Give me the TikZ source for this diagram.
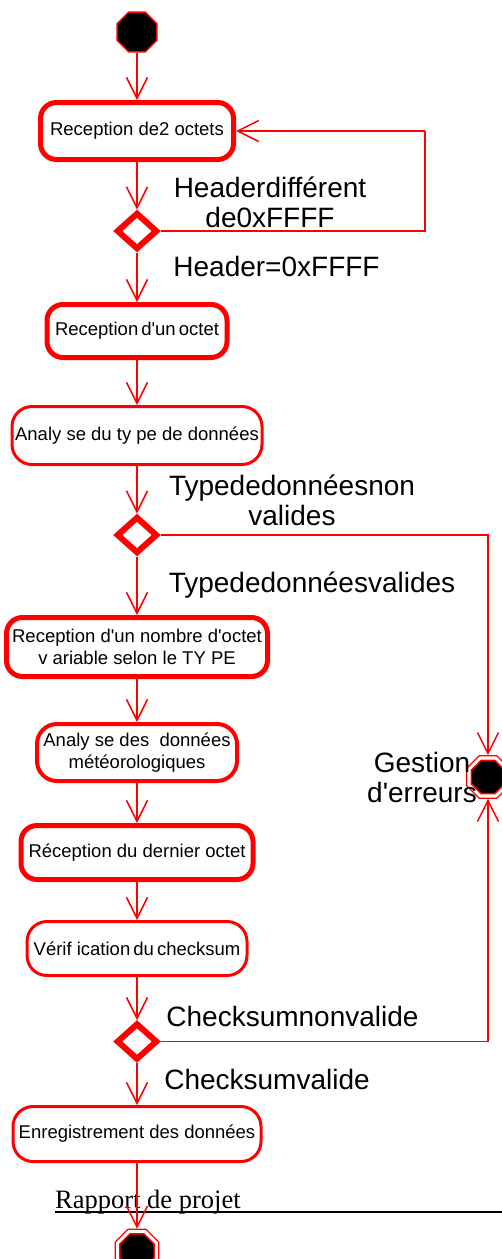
\documentclass[tikz,border=0pt]{standalone}
\usepackage{fontspec}
\setmainfont{Liberation Sans}[Ligatures=TeXOff]
\newfontfamily\seriffont{Liberation Serif}[Ligatures=TeXOff]
\usetikzlibrary{shapes.geometric,arrows.meta}
\begin{document}
\begin{tikzpicture}[x=1pt,y=-1pt,
  act/.style={draw=red, fill=white, rounded corners=16pt, align=center, inner sep=0pt,
    font=\fontsize{18.5}{22}\selectfont},
  actthick/.style={act, line width=5pt},
  actmid/.style={act, line width=4pt},
  actthin/.style={act, line width=3pt},
  decision/.style={diamond, draw=red, fill=white, line width=6pt, inner sep=0pt,
    minimum width=41pt, minimum height=37pt},
  startstate/.style={regular polygon, regular polygon sides=8, draw=red, fill=black,
    line width=1.5pt, inner sep=0pt, minimum size=43pt},
  endring/.style={regular polygon, regular polygon sides=8, draw=red,
    line width=1.2pt, inner sep=0pt},
  endcore/.style={regular polygon, regular polygon sides=8, draw=red, fill=black,
    line width=1.5pt, inner sep=0pt},
  conn/.style={draw=red, line width=1.5pt, -{Straight Barb[length=21pt,width=21pt]}},
  wire/.style={draw=red, line width=1.5pt},
  lbl/.style={font=\fontsize{28}{30}\selectfont, align=center, inner sep=0pt},
]
\useasboundingbox (0,0) rectangle (502,1259);
\clip (0,0) rectangle (502,1259);

% states
\node[startstate] (start) at (137,32) {};
\node[actthick, minimum width=193pt, minimum height=57pt] (b1) at (137,131) {Reception de2 octets};
\node[decision] (d1) at (137,231) {};
\node[actthick, minimum width=180pt, minimum height=53pt] (b2) at (137,331) {Reception\,d'un\,octet};
\node[actthin, minimum width=250pt, minimum height=58pt, rounded corners=20pt] (b3) at (137,435.5) {Analy se du ty pe de données};
\node[decision] (d2) at (137,535) {};
\node[actthick, minimum width=261pt, minimum height=59pt] (b4) at (137,647) {Reception d'un nombre d'octet\\v ariable selon le TY PE};
\node[actmid, minimum width=200pt, minimum height=57pt, rounded corners=20pt] (b5) at (137,752.5) {Analy se des \ données\\météorologiques};
\node[actthick, minimum width=232pt, minimum height=54pt] (b6) at (137,852.5) {Réception du dernier octet};
\node[actthin, minimum width=220pt, minimum height=54pt, rounded corners=20pt] (b7) at (137,948.5) {Vérif ication\,du\,checksum};
\node[decision] (d3) at (137,1041.5) {};
\node[actthin, minimum width=248pt, minimum height=55pt, rounded corners=20pt] (b8) at (137,1134) {Enregistrement des données};

% error end state
\node[endring, minimum size=46pt] (gest) at (488,777) {};
\node[endcore, minimum size=36pt] (gestcore) at (488,777) {};

% final end state
\node[endring, minimum size=47pt] (fin) at (137,1251) {};
\node[endcore, minimum size=37pt] (fincore) at (137,1251) {};

% labels
\node[lbl] (l1) at (270,202) {Headerdifférent\\de0xFFFF};
\node[lbl] (l2) at (276.5,266) {Header=0xFFFF};
\node[lbl] (l3) at (292,500) {Typededonnéesnon\\valides};
\node[lbl] (l4) at (312,585) {Typededonnéesvalides};
\node[lbl] (l5) at (422,777) {Gestion\\d'erreurs};
\node[lbl] (l6) at (292.5,1016) {Checksumnonvalide};
\node[lbl] (l7) at (267,1079) {Checksumvalide};

% footer
\node[anchor=base west, inner sep=0pt, font=\seriffont\fontsize{26.5}{30}\selectfont] (rap) at (55,1208) {Rapport de projet};
\coordinate (hl) at (55,1212);
\coordinate (hr) at (502,1212);
\draw[line width=2pt, black] (hl) -- (hr);

% connectors
\draw[conn] (start.south) -- (b1.north);
\draw[conn] (b1.south) -- (d1.north);
\coordinate (loopc) at (425,131);
\draw[wire] (d1.east) -| (loopc);
\draw[conn] (loopc) -- (b1.east);
\draw[conn] (d1.south) -- (b2.north);
\draw[conn] (b2.south) -- (b3.north);
\draw[conn] (b3.south) -- (d2.north);
\draw[conn] (d2.east) -| (gest.north);
\draw[conn] (d2.south) -- (b4.north);
\draw[conn] (b4.south) -- (b5.north);
\draw[conn] (b5.south) -- (b6.north);
\draw[conn] (b6.south) -- (b7.north);
\draw[conn] (b7.south) -- (d3.north);
\draw[conn] (d3.east) -| (gest.south);
\draw[conn] (d3.south) -- (b8.north);
\draw[conn] (b8.south) -- (fin.north);
\end{tikzpicture}
\end{document}
